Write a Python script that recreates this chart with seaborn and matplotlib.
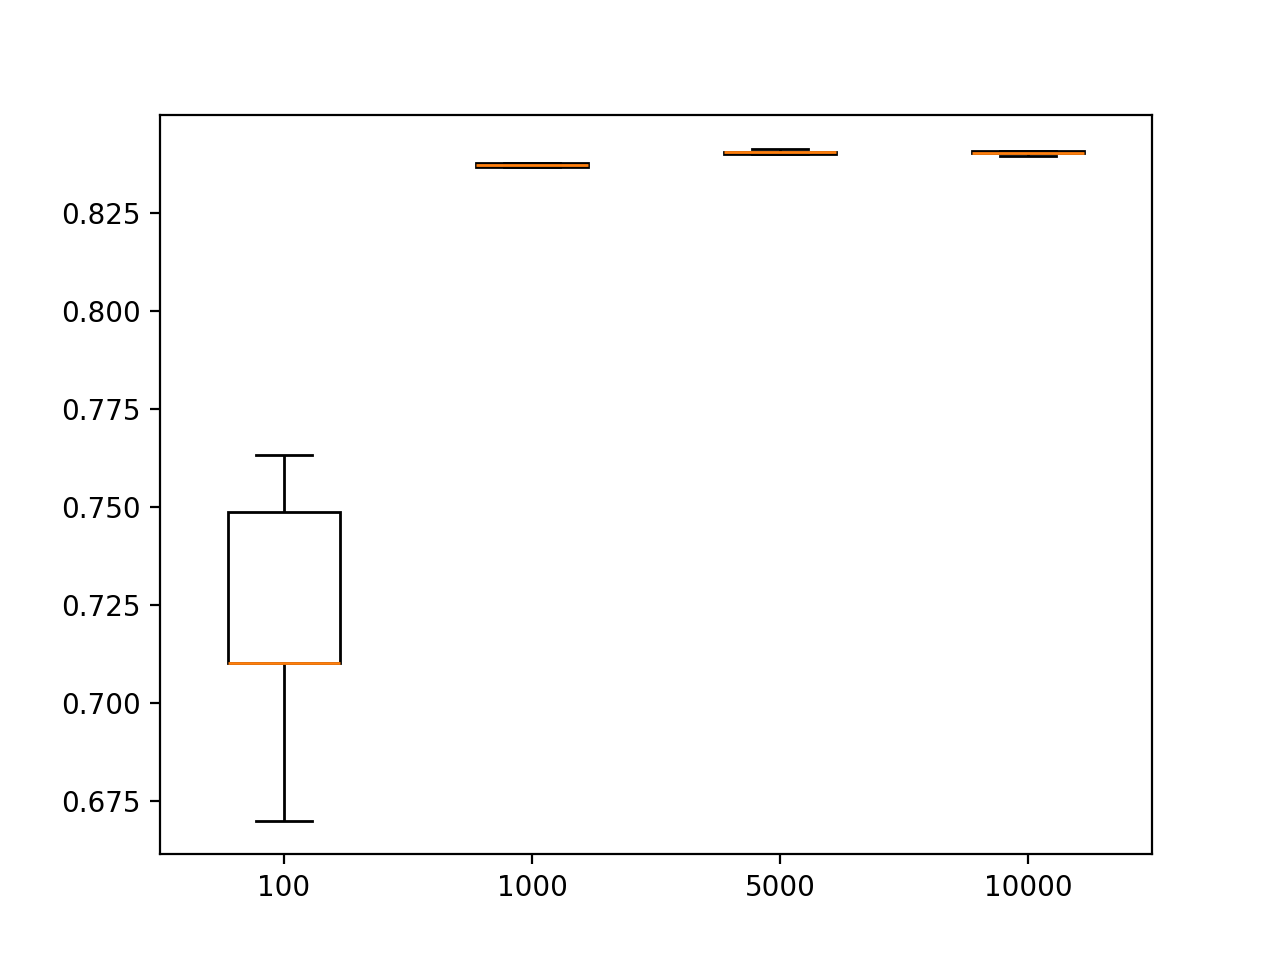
# boxplot of scores per number of estimators
import pandas as pd
import matplotlib
matplotlib.use("Agg")
import matplotlib.pyplot as plt
import seaborn as sns

n_estimators = ["100", "1000", "5000", "10000"]
scores_100 = [0.6699, 0.7102, 0.7102, 0.7487, 0.7633]
scores_1000 = [0.8367, 0.8367, 0.8372, 0.8377, 0.8378]
scores_5000 = [0.8401, 0.8401, 0.8407, 0.8407, 0.8414]
scores_10000 = [0.83954, 0.8403, 0.8403, 0.8409, 0.8409]

all_scores = [scores_100, scores_1000, scores_5000, scores_10000]
df = pd.DataFrame({
    "n": [n for n, s in zip(n_estimators, all_scores) for _ in s],
    "score": [v for s in all_scores for v in s],
})

fig, ax = plt.subplots(figsize=(6.4, 4.8), dpi=200)
sns.boxplot(data=df, x="n", y="score", order=n_estimators,
            color="white", linecolor="black", linewidth=1.0,
            width=0.45, whis=1.5,
            medianprops={"color": "#ff7f0e"}, ax=ax)
ax.set_xlabel("")
ax.set_ylabel("")
plt.savefig("out.png", dpi=200)
